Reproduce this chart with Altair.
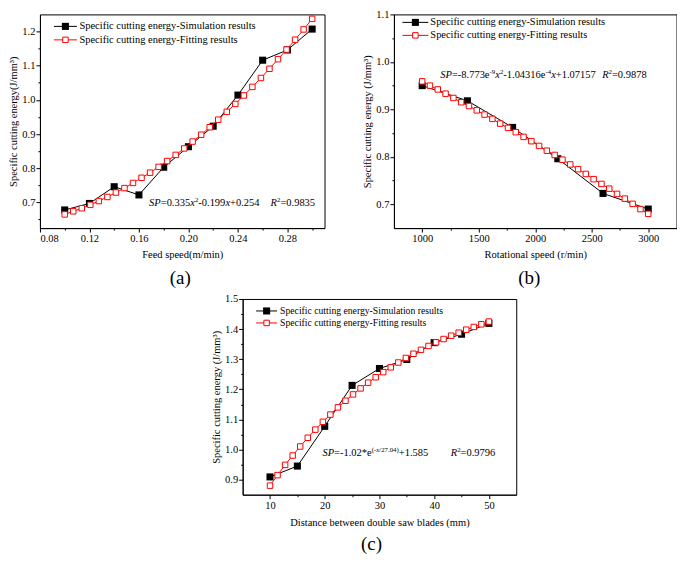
import altair as alt
import pandas as pd

FONT = "Liberation Serif"
RED = "#ff0000"
BASE = 10.5

# ---------------- data ----------------
A_SIM_X = [0.10, 0.12, 0.14, 0.16, 0.18, 0.20, 0.22, 0.24, 0.26, 0.28, 0.30]
A_SIM_Y = [0.678, 0.697, 0.746, 0.722, 0.803, 0.863, 0.923, 1.014, 1.116, 1.146, 1.207]
A_FIT_X = [0.1000, 0.1069, 0.1138, 0.1207, 0.1276, 0.1345, 0.1414, 0.1483, 0.1552, 0.1621,
           0.1690, 0.1759, 0.1828, 0.1897, 0.1966, 0.2034, 0.2103, 0.2172, 0.2241, 0.2310,
           0.2379, 0.2448, 0.2517, 0.2586, 0.2655, 0.2724, 0.2793, 0.2862, 0.2931, 0.3000]
A_FIT_Y = [0.665, 0.674, 0.683, 0.693, 0.704, 0.716, 0.729, 0.742, 0.757, 0.772,
           0.787, 0.804, 0.821, 0.839, 0.858, 0.878, 0.898, 0.920, 0.942, 0.965,
           0.988, 1.013, 1.038, 1.064, 1.091, 1.119, 1.147, 1.176, 1.206, 1.237]

B_SIM_X = [1000, 1400, 1800, 2200, 2600, 3000]
B_SIM_Y = [0.950, 0.918, 0.862, 0.796, 0.723, 0.690]
B_FIT_X = [1000, 1069, 1138, 1207, 1276, 1345, 1414, 1483, 1552, 1621,
           1690, 1759, 1828, 1897, 1966, 2034, 2103, 2172, 2241, 2310,
           2379, 2448, 2517, 2586, 2655, 2724, 2793, 2862, 2931, 3000]
B_FIT_Y = [0.959, 0.950, 0.942, 0.933, 0.924, 0.915, 0.907, 0.898, 0.889, 0.880,
           0.870, 0.861, 0.852, 0.842, 0.833, 0.823, 0.813, 0.804, 0.794, 0.784,
           0.774, 0.764, 0.753, 0.743, 0.733, 0.722, 0.712, 0.701, 0.690, 0.680]

C_SIM_X = [10, 15, 20, 25, 30, 35, 40, 45, 50]
C_SIM_Y = [0.909, 0.945, 1.077, 1.213, 1.269, 1.299, 1.355, 1.383, 1.419]
C_FIT_X = [10.0, 11.38, 12.76, 14.14, 15.52, 16.90, 18.28, 19.66, 21.03, 22.41,
           23.79, 25.17, 26.55, 27.93, 29.31, 30.69, 32.07, 33.45, 34.83, 36.21,
           37.59, 38.97, 40.34, 41.72, 43.10, 44.48, 45.86, 47.24, 48.62, 50.0]
C_FIT_Y = [0.880, 0.915, 0.949, 0.980, 1.010, 1.039, 1.066, 1.092, 1.116, 1.140,
           1.162, 1.183, 1.203, 1.222, 1.240, 1.257, 1.273, 1.289, 1.304, 1.318,
           1.331, 1.344, 1.356, 1.367, 1.378, 1.388, 1.398, 1.407, 1.416, 1.425]

A_XTICKS = [0.08, 0.10, 0.12, 0.14, 0.16, 0.18, 0.20, 0.22, 0.24, 0.26, 0.28, 0.30]
A_YTICKS = [0.65, 0.70, 0.75, 0.80, 0.85, 0.90, 0.95, 1.00, 1.05, 1.10, 1.15, 1.20]
B_XTICKS = [1000, 1250, 1500, 1750, 2000, 2250, 2500, 2750, 3000]
B_YTICKS = [0.70, 0.75, 0.80, 0.85, 0.90, 0.95, 1.00, 1.05, 1.10]
C_XTICKS = [10, 15, 20, 25, 30, 35, 40, 45, 50]
C_YTICKS = [0.90, 0.95, 1.00, 1.05, 1.10, 1.15, 1.20, 1.25, 1.30, 1.35, 1.40, 1.45, 1.50]

LEG_SIM = "Specific cutting energy-Simulation results"
LEG_FIT = "Specific cutting energy-Fitting results"
Y_TITLE_A = "Specific cutting energy(J/mm\u00b3)"
Y_TITLE_BC = "Specific cutting energy (J/mm\u00b3)"
X_TITLE_A = "Feed speed(m/min)"
X_TITLE_B = "Rotational speed (r/min)"
X_TITLE_C = "Distance between double saw blades (mm)"

EQ_A = [("SP", "i"), ("=0.335", "r"), ("x", "i"), ("2", "s"), ("-0.199", "r"), ("x", "i"), ("+0.254", "r")]
R_A = [("R", "i"), ("2", "s"), ("=0.9835", "r")]
EQ_B = [("SP", "i"), ("=-8.773e", "r"), ("-9", "s"), ("x", "i"), ("2", "s"), ("-1.04316e", "r"),
        ("-4", "s"), ("x", "i"), ("+1.07157", "r")]
R_B = [("R", "i"), ("2", "s"), ("=0.9878", "r")]
EQ_C = [("SP", "i"), ("=-1.02*e", "r"), ("(-", "s"), ("x", "si"), ("/27.04)", "s"), ("+1.585", "r")]
R_C = [("R", "i"), ("2", "s"), ("=0.9796", "r")]

# Times / Liberation Serif advance widths (1/1000 em)
REG = {' ': 250, '(': 333, ')': 333, '*': 500, '+': 564, '-': 333, '.': 250, '/': 278,
       '=': 564, 'e': 444, 'x': 500, 'R': 667, 'S': 556, 'P': 556}
for d in "0123456789":
    REG[d] = 500
ITA = dict(REG)
ITA.update({'S': 500, 'P': 611, 'R': 611, 'x': 444})


def seg_width(text, style, base):
    table = ITA if 'i' in style else REG
    size = base * 0.65 if style.startswith('s') else base
    return sum(table.get(c, 500) for c in text) / 1000.0 * size


def equation_layers(x, y, segs, xenc, yenc, base=BASE):
    df = pd.DataFrame({'x': [x], 'y': [y]})
    off = 0.0
    layers = []
    for text, style in segs:
        sup = style.startswith('s')
        size = base * 0.65 if sup else base
        layers.append(
            alt.Chart(df).mark_text(
                text=text, align='left', baseline='alphabetic', dx=round(off, 2),
                dy=round(-base * 0.38, 2) if sup else 0, font=FONT, fontSize=size,
                fontStyle='italic' if 'i' in style else 'normal', color='black'
            ).encode(x=xenc, y=yenc)
        )
        off += seg_width(text, style, base)
    return layers


def legend_layers(x1, x2, xt, y1, y2, fs):
    df = pd.DataFrame({'a': [0]})
    out = []
    xc = (x1 + x2) / 2
    for label, color, hollow, yy in [(LEG_SIM, 'black', False, y1), (LEG_FIT, RED, True, y2)]:
        out.append(alt.Chart(df).mark_rule(color=color, strokeWidth=1).encode(
            x=alt.value(x1), x2=alt.value(x2), y=alt.value(yy)))
        if hollow:
            sq = alt.Chart(df).mark_square(size=30, fill='white', stroke=RED, strokeWidth=1, opacity=1)
        else:
            sq = alt.Chart(df).mark_square(size=50, color='black', opacity=1)
        out.append(sq.encode(x=alt.value(xc), y=alt.value(yy)))
        out.append(alt.Chart(df).mark_text(text=label, align='left', baseline='middle', font=FONT,
                                           fontSize=fs, color='black').encode(
            x=alt.value(xt), y=alt.value(yy)))
    return out


def make_axis(title, values, fmt, major, label_pad, title_pad):
    return alt.Axis(
        title=title, values=values,
        labelExpr=f"({major}) ? format(datum.value, '{fmt}') : ''",
        tickSize={"condition": {"test": f"!({major})", "value": 2}, "value": 4},
        labelPadding=label_pad, titlePadding=title_pad, labelOverlap=False,
    )


def panel(sx, sy, fx, fy, xdom, ydom, xaxis, yaxis, w, h, legend, eq, eq_at, rr, r_at, caption, cap_dx, cap_off):
    xenc = alt.X('x:Q', scale=alt.Scale(domain=xdom, nice=False, zero=False), axis=xaxis)
    yenc = alt.Y('y:Q', scale=alt.Scale(domain=ydom, nice=False, zero=False), axis=yaxis)
    sim = pd.DataFrame({'x': sx, 'y': sy})
    fit = pd.DataFrame({'x': fx, 'y': fy})
    layers = [
        alt.Chart(sim).mark_line(color='black', strokeWidth=1).encode(x=xenc, y=yenc),
        alt.Chart(sim).mark_square(size=50, color='black', opacity=1).encode(x=xenc, y=yenc),
        alt.Chart(fit).mark_line(color=RED, strokeWidth=1).encode(x=xenc, y=yenc),
        alt.Chart(fit).mark_square(size=30, fill='white', stroke=RED, strokeWidth=1, opacity=1).encode(x=xenc, y=yenc),
    ]
    layers += equation_layers(eq_at[0], eq_at[1], eq, xenc, yenc)
    layers += equation_layers(r_at[0], r_at[1], rr, xenc, yenc)
    layers += legend
    return alt.layer(*layers).properties(
        width=w, height=h,
        title=alt.TitleParams(caption, orient='bottom', anchor='middle', dx=cap_dx, offset=cap_off,
                              fontSize=19, font=FONT, fontWeight='normal', color='black'),
    )


yfmt_major = "round(datum.value*100) % 10 == 0"

pa = panel(
    A_SIM_X, A_SIM_Y, A_FIT_X, A_FIT_Y, [0.08, 0.31], [0.625, 1.25],
    make_axis(X_TITLE_A, A_XTICKS, '.2f', "round(datum.value*100) % 4 == 0", 1, 6),
    make_axis(Y_TITLE_A, A_YTICKS, '.1f', yfmt_major, 1, 3),
    285, 214, legend_layers(14, 37, 39.5, 12, 25.5, 10.5),
    EQ_A, (0.1682, 0.69), R_A, (0.2664, 0.69), "(a)", -2, 9,
)

pb = panel(
    B_SIM_X, B_SIM_Y, B_FIT_X, B_FIT_Y, [750, 3250], [0.65, 1.1],
    make_axis(X_TITLE_B, B_XTICKS, 'd', "datum.value % 500 == 0", 1, 6),
    make_axis(Y_TITLE_BC, B_YTICKS, '.1f', yfmt_major, 1, 3),
    283, 214, legend_layers(8.5, 34.5, 36.5, 8, 21, 10.4),
    EQ_B, (1160, 0.967), R_B, (2592, 0.967), "(b)", -6, 9,
)

pc = panel(
    C_SIM_X, C_SIM_Y, C_FIT_X, C_FIT_Y, [5, 55], [0.85, 1.5],
    make_axis(X_TITLE_C, C_XTICKS, 'd', "datum.value % 10 == 0", 2, 6),
    make_axis(Y_TITLE_BC, C_YTICKS, '.1f', yfmt_major, 1, 3),
    274, 196, legend_layers(13.5, 34.5, 37.5, 12, 24, 9.7),
    EQ_C, (19.58, 0.98), R_C, (43.04, 0.98), "(c)", -8, 7,
)

spacer = alt.Chart(pd.DataFrame({'a': [0]})).mark_point(opacity=0).encode(
    x=alt.value(0), y=alt.value(0)
).properties(width=171, height=20, view=alt.ViewBackground(strokeOpacity=0))

top = alt.hconcat(pa, pb, spacing=36.5)
bottom = alt.hconcat(spacer, pc, spacing=0)

chart = alt.vconcat(top, bottom, spacing=4).properties(padding=0).configure_axis(
    domainColor='black', tickColor='black', labelColor='black', titleColor='black',
    labelFont=FONT, titleFont=FONT, labelFontSize=BASE, titleFontSize=BASE,
    titleFontWeight='normal', grid=False, domainWidth=1, tickWidth=1,
).configure_view(stroke='black', strokeWidth=1).configure_title(font=FONT)

chart.save("out.html", embed_options={"renderer": "svg", "actions": False})
